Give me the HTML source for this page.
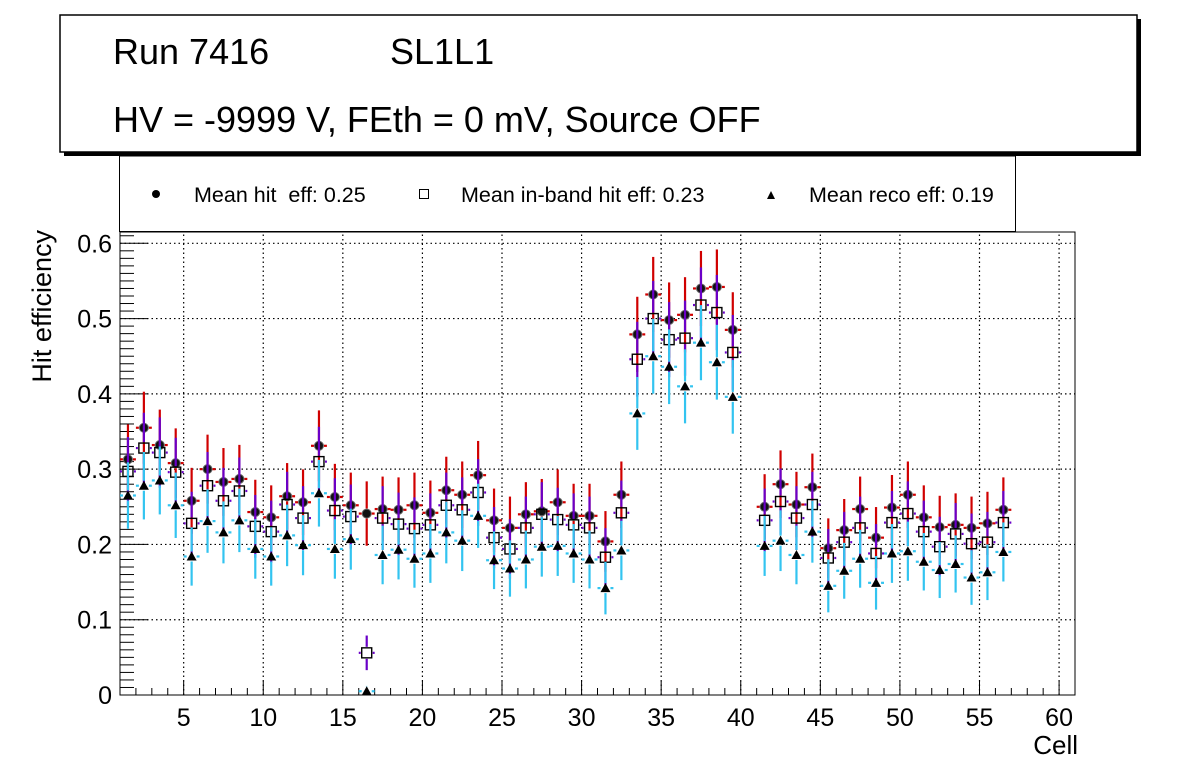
<!DOCTYPE html>
<html><head><meta charset="utf-8"><style>
html,body{margin:0;padding:0;background:#fff;}
svg{display:block;font-family:"Liberation Sans",Arial,sans-serif;}
</style></head><body>
<svg id="c" width="1196" height="772" viewBox="0 0 1196 772" xmlns="http://www.w3.org/2000/svg">
<g>
<rect x="64" y="19" width="1077" height="137" fill="#000"/>
<rect x="60" y="15" width="1077" height="137" fill="#fff" stroke="#000" stroke-width="1.5"/>
<text x="113" y="64" font-size="36">Run 7416</text>
<text x="390" y="64" font-size="36">SL1L1</text>
<text x="113" y="132" font-size="36">HV = -9999 V, FEth = 0 mV, Source OFF</text>
</g>
<g>
<rect x="119.5" y="156" width="896" height="75.5" fill="#fff" stroke="#000" stroke-width="1"/>
<circle cx="156" cy="194" r="4" fill="#000"/>
<text x="194" y="202" font-size="21.5" style="white-space:pre" xml:space="preserve">Mean hit  eff: 0.25</text>
<rect x="419.5" y="189.5" width="9" height="9" fill="#fff" stroke="#000"/>
<text x="461" y="202" font-size="21.5">Mean in-band hit eff: 0.23</text>
<path d="M767 199 L771 191 L775 199 Z" fill="#000"/>
<text x="809" y="202" font-size="21.5">Mean reco eff: 0.19</text>
</g>
<g id="plot"></g>
</svg>
<script>
const cells=[1,2,3,4,5,6,7,8,9,10,11,12,13,14,15,16,17,18,19,20,21,22,23,24,25,26,27,28,29,30,31,32,33,34,35,36,37,38,39,41,42,43,44,45,46,47,48,49,50,51,52,53,54,55,56];
const hitEff=[0.313,0.355,0.332,0.308,0.258,0.300,0.283,0.287,0.243,0.236,0.264,0.256,0.331,0.263,0.252,0.241,0.247,0.246,0.252,0.242,0.272,0.266,0.292,0.232,0.222,0.240,0.244,0.256,0.238,0.238,0.204,0.266,0.479,0.532,0.498,0.505,0.540,0.542,0.485,0.250,0.280,0.253,0.276,0.195,0.219,0.247,0.209,0.249,0.266,0.236,0.223,0.226,0.222,0.228,0.246];
const inbandEff=[0.297,0.328,0.322,0.296,0.228,0.278,0.258,0.271,0.224,0.217,0.253,0.235,0.310,0.245,0.237,0.056,0.235,0.227,0.221,0.226,0.252,0.246,0.269,0.209,0.194,0.222,0.240,0.233,0.226,0.222,0.183,0.242,0.446,0.500,0.472,0.474,0.518,0.508,0.455,0.232,0.257,0.235,0.253,0.182,0.203,0.222,0.188,0.229,0.241,0.217,0.197,0.214,0.201,0.203,0.229];
const recoEff=[0.265,0.278,0.285,0.252,0.184,0.231,0.216,0.232,0.194,0.184,0.212,0.199,0.268,0.194,0.207,0.005,0.186,0.193,0.181,0.188,0.216,0.205,0.238,0.179,0.168,0.180,0.197,0.198,0.188,0.180,0.142,0.192,0.374,0.450,0.436,0.410,0.468,0.442,0.396,0.198,0.205,0.186,0.217,0.145,0.165,0.181,0.149,0.188,0.191,0.177,0.166,0.174,0.156,0.163,0.190];
const nEvents=100;
const yTicks=["0","0.1","0.2","0.3","0.4","0.5","0.6"];
const xTicks=["5","10","15","20","25","30","35","40","45","50","55","60"];
const X0=120,X1=1075,Y0=695,Y1=232,XMIN=1,XMAX=61,YMIN=0,YMAX=0.615;
const sx=v=>X0+(v-XMIN)/(XMAX-XMIN)*(X1-X0);
const sy=v=>Y0-(v-YMIN)/(YMAX-YMIN)*(Y0-Y1);
const NS="http://www.w3.org/2000/svg";
const g=document.getElementById('plot');
function mk(t,a,p){const e=document.createElementNS(NS,t);for(const k in a)e.setAttribute(k,a[k]);(p||g).appendChild(e);return e;}
const grid=mk('g',{});


xTicks.forEach(t=>{const x=sx(+t);if(x<X1-1)mk('line',{x1:x,x2:x,y1:Y0,y2:Y1,stroke:'#000','stroke-width':1.2,'stroke-dasharray':'1.5 3'},grid);});
yTicks.forEach(t=>{const y=sy(+t);if(+t>0)mk('line',{x1:X0,x2:X1,y1:y,y2:y,stroke:'#000','stroke-width':1.2,'stroke-dasharray':'1.5 3'},grid);});
const fr=mk('rect',{x:X0,y:Y1,width:X1-X0,height:Y0-Y1,fill:'none',stroke:'#000','stroke-width':1});


const ax=mk('g',{});


for(let v=XMIN;v<=XMAX;v++){const x=sx(v);const maj=v%5==0;mk('line',{x1:x,x2:x,y1:Y0,y2:Y0-(maj?14:7),stroke:'#000','stroke-width':1},ax);}
xTicks.forEach(t=>{const tx=mk('text',{x:sx(+t),y:Y0+31,'font-size':25,'text-anchor':'middle'},ax);tx.textContent=t;

});
const xt=mk('text',{x:1078,y:754,'font-size':26,'text-anchor':'end'},ax);xt.textContent='Cell';


const ay=mk('g',{});


for(let i=0;i<=61;i++){const v=i*0.01;if(v>YMAX)break;const y=sy(v);const maj=i%10==0;mk('line',{x1:X0,x2:X0+(maj?28:14),y1:y,y2:y,stroke:'#000','stroke-width':1},ay);}
yTicks.forEach(t=>{const tx=mk('text',{x:112,y:sy(+t)+9,'font-size':25,'text-anchor':'end'},ay);tx.textContent=t;

});
const yt=mk('text',{x:0,y:0,'font-size':27,'text-anchor':'end',transform:'translate(51,230) rotate(-90)'},ay);yt.textContent='Hit efficiency';


function series(name,vals,col,gap,marker){
  const sg=mk('g',{});
  
  
  cells.forEach((c,i)=>{
    const v=vals[i];const err=Math.sqrt(Math.max(v*(1-v),0.0005)/nEvents);
    const x=sx(c+0.5),y=sy(v);
    const xl=sx(c),xr=sx(c+1),yt=sy(v+err),yb=sy(Math.max(0,v-err));
    if(yt<y-gap)mk('line',{x1:x,x2:x,y1:yt,y2:y-gap,stroke:col,'stroke-width':2.2},sg);
    if(yb>y+gap)mk('line',{x1:x,x2:x,y1:y+gap,y2:yb,stroke:col,'stroke-width':2.2},sg);
    mk('line',{x1:xl,x2:x-gap,y1:y,y2:y,stroke:col,'stroke-width':2.2},sg);
    mk('line',{x1:x+gap,x2:xr,y1:y,y2:y,stroke:col,'stroke-width':2.2},sg);
    let m;
    if(marker=='c')m=mk('circle',{cx:x,cy:y,r:4.5,fill:'#111',stroke:'#666','stroke-width':1},sg);
    else if(marker=='s')m=mk('rect',{x:x-5,y:y-5,width:10,height:10,fill:'none',stroke:'#000','stroke-width':1.4},sg);
    else m=mk('path',{d:`M${x-5} ${y+4} L${x} ${y-5} L${x+5} ${y+4} Z`,fill:'#000'},sg);
    
    
  });
}
series('hit-eff-series',hitEff,'#d00000',5,'c');
series('inband-eff-series',inbandEff,'#6a00c8',6,'s');
series('reco-eff-series',recoEff,'#33c4f0',5,'t');
</script>
</body></html>
